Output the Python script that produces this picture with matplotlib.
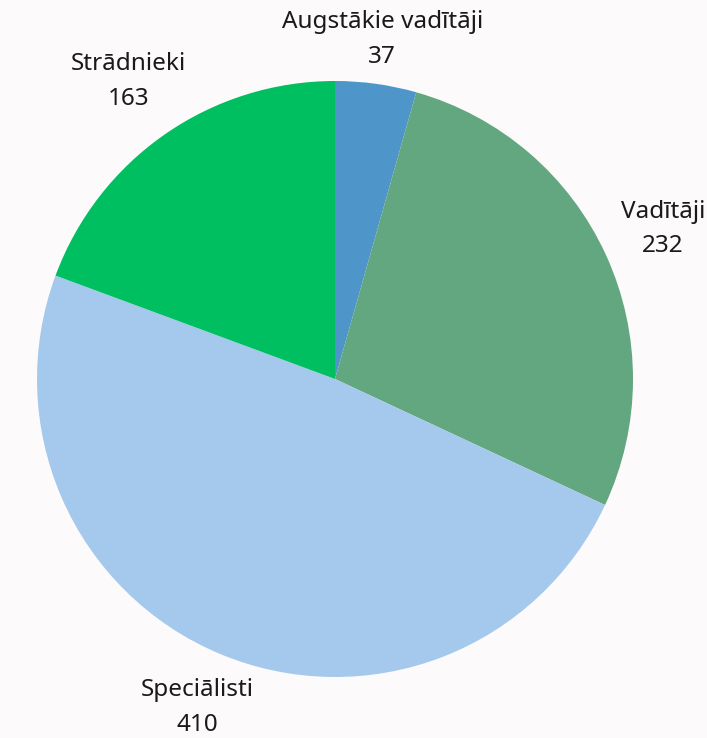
import numpy as np
import matplotlib.pyplot as plt

labels = ['Augstākie vadītāji', 'Vadītāji', 'Speciālisti', 'Strādnieki']
values = [37, 232, 410, 163]
colors = ['#4E95C9', '#62A780', '#A4C9EC', '#00BF61']
label_dist = [1.15, 1.21, 1.195, 1.215]

bg = '#FCFAFA'
fig = plt.figure(figsize=(7.07, 7.38), dpi=100, facecolor=bg)
W, H = 707, 738
cx, cy, r = 335, 379, 298
ax = fig.add_axes([(cx - r) / W, (H - cy - r) / H, 2 * r / W, 2 * r / H])
ax.set_facecolor(bg)

wedges, _ = ax.pie(values, colors=colors, startangle=90, counterclock=False,
                   radius=1, wedgeprops=dict(linewidth=0))

for w, name, v, d in zip(wedges, labels, values, label_dist):
    ang = np.deg2rad((w.theta1 + w.theta2) / 2)
    ax.text(d * np.cos(ang), d * np.sin(ang), f'{name}\n{v}',
            ha='center', va='center', fontsize=17.5, family='Noto Sans',
            color='#1a1a1a', linespacing=1.6, clip_on=False)

ax.set_xlim(-1, 1)
ax.set_ylim(-1, 1)
ax.set_aspect('auto')
ax.axis('off')

fig.savefig('out.png', dpi=100, facecolor=bg)
